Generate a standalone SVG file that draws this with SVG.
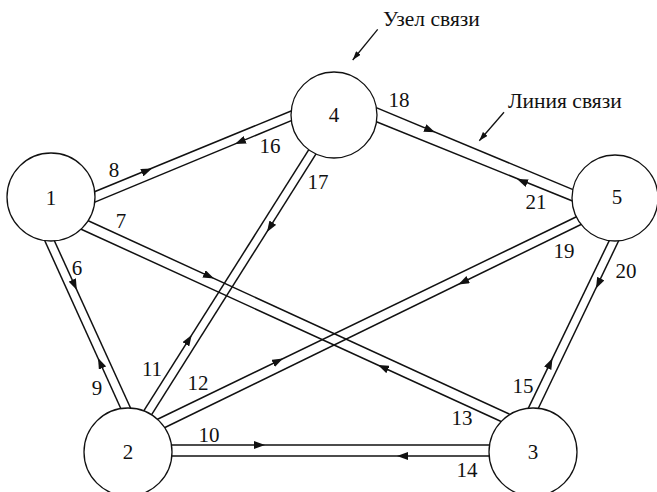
<svg xmlns="http://www.w3.org/2000/svg" width="657" height="492" viewBox="0 0 657 492">
<defs>
<style>
.ln{stroke:#111;stroke-width:1.5;fill:none}
.ar{stroke:none;fill:none}
.nd{fill:#fff;stroke:#111;stroke-width:1.3}
text{font-family:"Liberation Serif","Times New Roman",serif;font-size:21px;fill:#111}
.c{text-anchor:middle;dominant-baseline:central}
.an{font-size:21.5px}
</style>
<marker id="ah" markerUnits="userSpaceOnUse" markerWidth="11" markerHeight="8" refX="11" refY="4" orient="auto" viewBox="0 0 11 8"><path d="M0,0 L11,4 L0,8 z" fill="#111"/></marker>
<marker id="sh" markerUnits="userSpaceOnUse" markerWidth="9" markerHeight="6" refX="9" refY="3" orient="auto" viewBox="0 0 9 6"><path d="M0,0 L9,3 L0,6 z" fill="#111"/></marker>
</defs>
<rect width="657" height="492" fill="#fff"/>
<g id="connectors">
<line class="ln" x1="86.6" y1="195" x2="298.4" y2="108"/>
<line class="ln" x1="87.6" y1="205.1" x2="300.4" y2="116.9"/>
<line class="ln" x1="81.7" y1="217.7" x2="516.3" y2="417.3"/>
<line class="ln" x1="75.7" y1="226.7" x2="509.3" y2="425.3"/>
<line class="ln" x1="40.7" y1="231.7" x2="124.3" y2="416.3"/>
<line class="ln" x1="50.7" y1="232.7" x2="134.3" y2="416.3"/>
<line class="ln" x1="138.7" y1="418.8" x2="312.3" y2="144.2"/>
<line class="ln" x1="147.7" y1="420.8" x2="320.3" y2="147.2"/>
<line class="ln" x1="150.8" y1="422.5" x2="583.2" y2="213.5"/>
<line class="ln" x1="158.8" y1="430.5" x2="589.2" y2="220.5"/>
<line class="ln" x1="165" y1="445" x2="497" y2="445"/>
<line class="ln" x1="165" y1="456" x2="497" y2="456"/>
<line class="ln" x1="524.5" y1="416.2" x2="613.5" y2="231.8"/>
<line class="ln" x1="534.5" y1="416.2" x2="622.5" y2="232.8"/>
<line class="ln" x1="369.6" y1="104.9" x2="581.4" y2="193.1"/>
<line class="ln" x1="369.6" y1="119" x2="582.4" y2="205"/>
<path class="ar" d="M146.45,170.8 L152,168.5" marker-end="url(#ah)"/>
<path class="ar" d="M240.5,141.7 L235,144" marker-end="url(#ah)"/>
<path class="ar" d="M208.5,275.9 L214,278.4" marker-end="url(#ah)"/>
<path class="ar" d="M383.5,367.5 L378,365" marker-end="url(#ah)"/>
<path class="ar" d="M74.3,284.5 L76.8,290" marker-end="url(#ah)"/>
<path class="ar" d="M100.5,363.5 L98,358" marker-end="url(#ah)"/>
<path class="ar" d="M188.5,340.1 L191.7,335" marker-end="url(#ah)"/>
<path class="ar" d="M270.2,226.9 L267,232" marker-end="url(#ah)"/>
<path class="ar" d="M277.6,361.2 L283,358.6" marker-end="url(#ah)"/>
<path class="ar" d="M463.7,281.8 L458.3,284.4" marker-end="url(#ah)"/>
<path class="ar" d="M259,445 L265,445" marker-end="url(#ah)"/>
<path class="ar" d="M403,456 L397,456" marker-end="url(#ah)"/>
<path class="ar" d="M598.6,283.1 L596,288.5" marker-end="url(#ah)"/>
<path class="ar" d="M549.9,363.7 L552.5,358.3" marker-end="url(#ah)"/>
<path class="ar" d="M429.5,130 L435,132.3" marker-end="url(#ah)"/>
<path class="ar" d="M522.6,181.3 L517,179" marker-end="url(#ah)"/>
<line x1="377.7" y1="29.3" x2="352.7" y2="60" stroke="#111" stroke-width="1.3" marker-end="url(#sh)"/>
<line x1="504" y1="112.3" x2="479.3" y2="140.7" stroke="#111" stroke-width="1.3" marker-end="url(#sh)"/>
</g>
<g id="edge-labels">
<text class="c" x="114" y="170">8</text>
<text class="c" x="121" y="221">7</text>
<text class="c" x="77" y="268">6</text>
<text class="c" x="270" y="146">16</text>
<text class="c" x="318" y="182">17</text>
<text class="c" x="399" y="100">18</text>
<text class="c" x="536" y="202">21</text>
<text class="c" x="564" y="251">19</text>
<text class="c" x="626" y="271">20</text>
<text class="c" x="97" y="388">9</text>
<text class="c" x="152" y="369">11</text>
<text class="c" x="198" y="383">12</text>
<text class="c" x="209" y="435">10</text>
<text class="c" x="462" y="418">13</text>
<text class="c" x="467" y="470">14</text>
<text class="c" x="523" y="386">15</text>
</g>
<g id="node1"><circle class="nd" cx="51" cy="197" r="44"/><text class="c" x="51" y="198">1</text></g>
<g id="node4"><circle class="nd" cx="334" cy="115" r="43"/><text class="c" x="334" y="115">4</text></g>
<g id="node5"><circle class="nd" cx="615" cy="198" r="43"/><text class="c" x="617" y="197">5</text></g>
<g id="node2"><circle class="nd" cx="128" cy="452" r="44"/><text class="c" x="128" y="452">2</text></g>
<g id="node3"><circle class="nd" cx="533" cy="452" r="44"/><text class="c" x="533" y="452">3</text></g>
<g id="annotations">
<text class="an" x="383" y="26">Узел связи</text>
<text class="an" x="508" y="108">Линия связи</text>
</g>
</svg>
